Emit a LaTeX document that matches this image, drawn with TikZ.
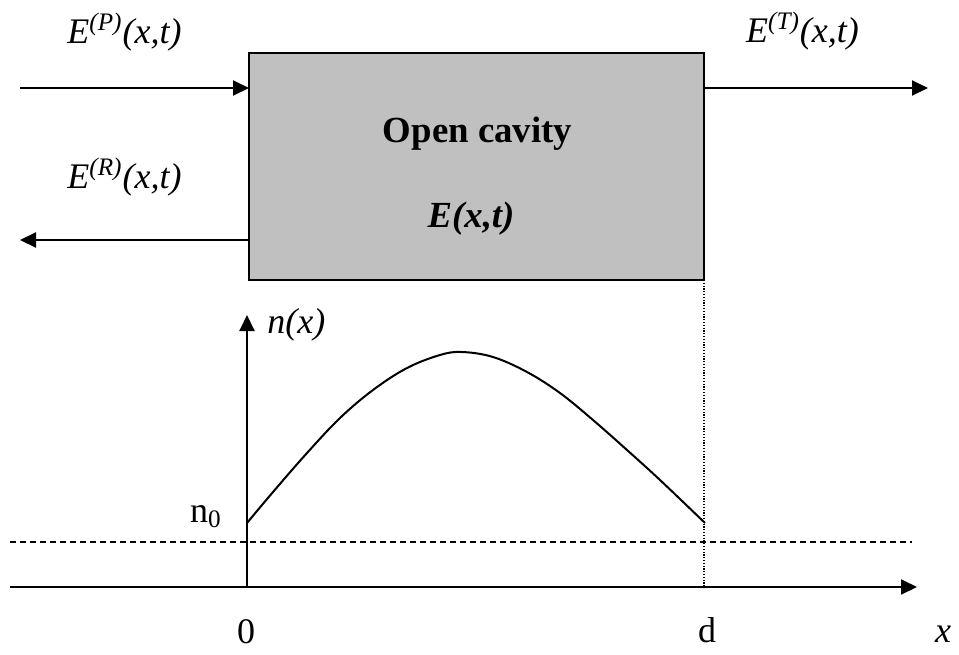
\documentclass[tikz,border=0pt]{standalone}
\usepackage{fontspec}
\setmainfont{Liberation Serif}
\usetikzlibrary{arrows.meta}
\definecolor{cavgray}{RGB}{192,192,192}
\begin{document}
\begin{tikzpicture}[x=0.5pt,y=-0.5pt,
  every node/.style={font=\fontsize{18}{20}\selectfont,inner sep=0pt},
  wave/.style={line width=1pt,-{Triangle[length=8pt,width=7.5pt]}},
  axis/.style={line width=1pt,-{Triangle[length=8pt,width=7.5pt]}},
  level/.style={line width=0.8pt,dash pattern=on 3pt off 2pt},
  edge/.style={line width=0.6pt,dash pattern=on 0.6pt off 0.8pt},
  cavitybox/.style={draw,line width=1pt,fill=cavgray,minimum width=227.5pt,
    minimum height=113.5pt,outer sep=0pt},
  lbl/.style={anchor=base,font=\fontsize{18}{20}\selectfont\itshape}]
\useasboundingbox (0,0) rectangle (959,654);
\node[cavitybox] (cavity) at (476.5,166.5) {};
\node[anchor=base,font=\fontsize{18.4}{20}\selectfont\bfseries] (title) at (477.5,142) {Open cavity};
\node[anchor=base,font=\fontsize{18.4}{20}\selectfont\bfseries\itshape] (field) at (471,227) {E(x,t)};
\coordinate (pin) at (20,88);
\coordinate (rout) at (20,240);
\coordinate (tout) at (928,88);
\draw[wave] (pin) -- (pin -| cavity.west);
\draw[wave] (rout -| cavity.west) -- (rout);
\draw[wave] (tout -| cavity.east) -- (tout);
\node[lbl] (lp) at (124.5,43) {E\textsuperscript{(P)}(x,t)};
\node[lbl] (lr) at (124.5,188) {E\textsuperscript{(R)}(x,t)};
\node[lbl] (lt) at (802.5,42) {E\textsuperscript{(T)}(x,t)};
\coordinate (o) at (247,588);
\coordinate (ytop) at (247,315);
\coordinate (xbeg) at (10,587);
\coordinate (xend) at (917,587);
\coordinate (dbeg) at (10,542);
\coordinate (dend) at (912,542);
\draw[level] (dbeg) -- (dend);
\draw[edge] (cavity.south east) -- (cavity.south east |- o);
\draw[axis] (xbeg) -- (xend);
\draw[axis] (o) -- (ytop);
\draw[line width=1pt] plot[smooth,tension=0.6] coordinates {(247,523) (273,492) (307,453) (340,418)
  (373,390) (407,368) (440,355) (462,352) (493,357) (527,372) (560,393) (593,420)
  (627,450) (660,480) (705,523)};
\node[anchor=base east] (nzero) at (222,522) {n\textsubscript{0}};
\node[anchor=base west,font=\fontsize{18}{20}\selectfont\itshape] (nlab) at (267,333) {n(x)};
\node[anchor=base] (zero) at (246,643) {0};
\node[anchor=base] (dlab) at (707,642) {d};
\node[lbl] (xlab) at (943,642) {x};
\end{tikzpicture}
\end{document}
